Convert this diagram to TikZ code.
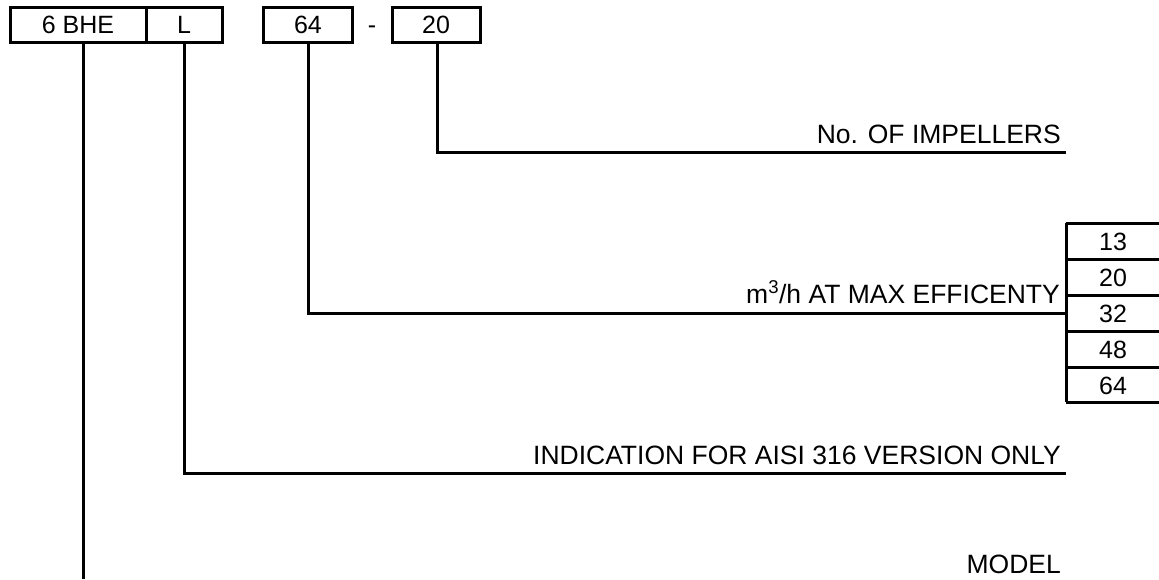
\documentclass[tikz,border=0pt]{standalone}
\usepackage{fontspec}
\setmainfont{Liberation Sans}
\begin{document}
\begin{tikzpicture}[x=1pt,y=-1pt,
  ln/.style={line width=3pt},
  codebox/.style={draw,line width=3pt,minimum height=35pt,inner sep=0pt},
  boxtxt/.style={font=\fontsize{25}{30}\selectfont,inner sep=0pt},
  lbl/.style={font=\fontsize{26.5}{31}\selectfont,inner sep=0pt,anchor=base east}]
\useasboundingbox (0,0) rectangle (1159,579);
% top code boxes
\node[codebox,minimum width=136pt] (b6) at (78,24.5) {};
\node[codebox,minimum width=76pt] (bL) at (184,24.5) {};
\node[codebox,minimum width=89pt] (b64) at (308,24.5) {};
\node[codebox,minimum width=88pt] (b20) at (436,24.5) {};
\node[boxtxt,anchor=base] (t6) at (78,33) {6 BHE};
\node[boxtxt,anchor=base] (tL) at (184,33) {L};
\node[boxtxt,anchor=base] (t64) at (308,33) {64};
\node[boxtxt,anchor=base] (dash) at (372,33) {-};
\node[boxtxt,anchor=base] (t20) at (436,33) {20};
% connector ends
\coordinate (e6) at (83,579);
\coordinate (cL) at (184,473);
\coordinate (eL) at (1066,473);
\coordinate (c64) at (308,313);
\coordinate (c20) at (437,152);
\coordinate (e20) at (1066,152);
% table
\coordinate (tt) at (1066,223);
\coordinate (tb) at (1066,402);
\draw[ln] (tt) -- (tb);
\foreach \y in {223,259,295,331,367,402} \draw[ln] (1066,\y) -- (1159,\y);
\node[boxtxt,anchor=base] (r1) at (1113,250) {13};
\node[boxtxt,anchor=base] (r2) at (1113,286) {20};
\node[boxtxt,anchor=base] (r3) at (1113,322) {32};
\node[boxtxt,anchor=base] (r4) at (1113,358) {48};
\node[boxtxt,anchor=base] (r5) at (1113,394) {64};
\coordinate (e64) at (tt |- c64);
% connectors
\draw[ln] (b20.south -| c20) -- (c20) -- (e20);
\draw[ln] (b64.south -| c64) -- (c64) -- (e64);
\draw[ln] (bL.south -| cL) -- (cL) -- (eL);
\draw[ln] (b6.south -| e6) -- (e6);
% labels
\node[lbl] (l20) at (1061,143) {No. OF IMPELLERS};
\node[lbl] (l64) at (1060,303) {m\textsuperscript{3}/h AT MAX EFFICENTY};
\node[lbl] (lL) at (1061,464) {INDICATION FOR AISI 316 VERSION ONLY};
\node[lbl] (l6) at (1061,573) {MODEL};
\end{tikzpicture}
\end{document}
